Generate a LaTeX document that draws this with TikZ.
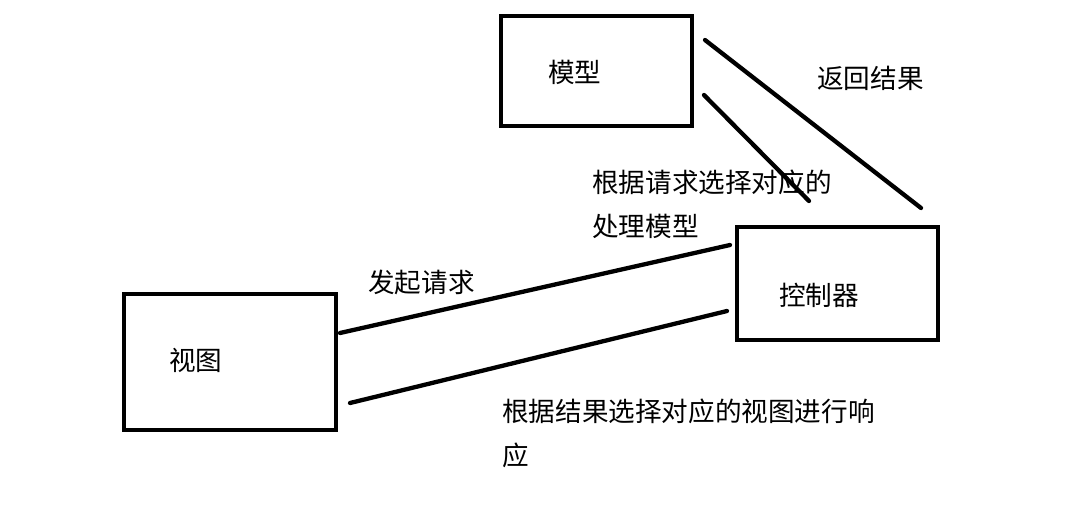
\documentclass[tikz,border=0pt]{standalone}
\usepackage{fontspec}
\setmainfont{Noto Sans CJK SC}
\begin{document}
\begin{tikzpicture}[x=1pt,y=-1pt,
  box/.style={draw,line width=4.5pt,inner sep=0pt,outer sep=0pt,anchor=north west},
  lbl/.style={inner sep=0pt,anchor=west,align=left,font=\fontsize{26.6}{44}\selectfont},
  conn/.style={line width=4.3pt,line cap=round}]
\useasboundingbox[fill=white] (0,0) rectangle (1076,515);
% boxes
\node[box,minimum width=191pt,minimum height=110pt] (model) at (501,16) {};
\node[box,minimum width=201pt,minimum height=113pt] (ctrl) at (737,227) {};
\node[box,minimum width=212pt,minimum height=136pt] (view) at (124,294) {};
% box texts
\node[lbl] (tmodel) at (548,72) {模型};
\node[lbl] (tctrl) at (779,295) {控制器};
\node[lbl] (tview) at (169,360) {视图};
% connector labels
\node[lbl] (tret) at (817,78) {返回结果};
\node[lbl] (tsel) at (592,204.5) {根据请求选择对应的\\处理模型};
\node[lbl] (treq) at (368,282) {发起请求};
\node[lbl] (tresp) at (502,433) {根据结果选择对应的视图进行响\\应};
% connector end points
\coordinate (r1) at (705,40);
\coordinate (r2) at (921,208);
\coordinate (s1) at (704,95);
\coordinate (s2) at (809,201);
\coordinate (q1) at (340,333);
\coordinate (q2) at (730,245);
\coordinate (p1) at (350,403);
\coordinate (p2) at (727,311);
\draw[conn] (r1) -- (r2);
\draw[conn] (s1) -- (s2);
\draw[conn] (q1) -- (q2);
\draw[conn] (p1) -- (p2);
\end{tikzpicture}
\end{document}
